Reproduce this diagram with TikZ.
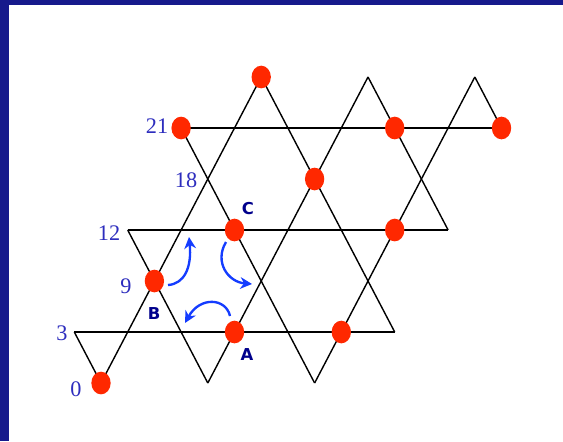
\documentclass[tikz,border=0pt]{standalone}
\usepackage{fontspec}
\setmainfont{Liberation Serif}
\newfontfamily\tagfont{DejaVu Sans}
\usepackage{tikz}
\usetikzlibrary{arrows.meta, shapes.geometric}
\definecolor{framenavy}{RGB}{22, 26, 140}
\definecolor{labelblue}{RGB}{45, 45, 190}
\definecolor{tagnavy}{RGB}{0, 0, 140}
\definecolor{hopblue}{RGB}{20, 60, 255}
\definecolor{sitered}{RGB}{255, 40, 0}

\begin{document}
\begin{tikzpicture}[x=0.03cm, y=-0.03cm,
  site/.style={ellipse, fill=sitered, inner sep=0pt, minimum width=0.58cm, minimum height=0.68cm},
  num/.style={text=labelblue, inner sep=0pt, font=\fontsize{19}{19}\selectfont},
  tag/.style={text=tagnavy, inner sep=0pt, font=\tagfont\bfseries\fontsize{14}{14}\selectfont},
  hop/.style={-{Stealth[length=10pt, width=10pt]}, hopblue, line width=2pt}]
  \useasboundingbox (0,0) rectangle (563,441);
  % frame
  \fill[framenavy] (0,0) rectangle (563,441);
  \fill[white] (9,5) rectangle (563,441);
  % lattice, in cell units
  \begin{scope}[shift={(3.03cm,-11.49cm)}, x=0.801cm, y=1.53cm]
    \draw[line width=1.7pt] (-1,1) -- (11,1);
    \draw[line width=1.7pt] (1,3) -- (13,3);
    \draw[line width=1.7pt] (3,5) -- (15,5);
    \foreach \s in {0,4,8}
      \draw[line width=1.2pt] (\s,0) -- (\s+6,6);
    \draw[line width=1.2pt] (-1,1) -- (0,0);
    \draw[line width=1.2pt] (1,3) -- (4,0);
    \draw[line width=1.2pt] (3,5) -- (8,0);
    \draw[line width=1.2pt] (6,6) -- (11,1);
    \draw[line width=1.2pt] (10,6) -- (13,3);
    \draw[line width=1.2pt] (14,6) -- (15,5);
    % occupied sites
    \node[site] (s0) at (0,0) {};
    \node[site] (B) at (2,2) {};
    \node[site] (A) at (5,1) {};
    \node[site] (C) at (5,3) {};
    \node[site] (s21) at (3,5) {};
    \node[site] (top) at (6,6) {};
    \node[site] (mid) at (8,4) {};
    \node[site] (low) at (9,1) {};
    \node[site] (east) at (11,3) {};
    \node[site] (upper) at (11,5) {};
    \node[site] (far) at (15,5) {};
  \end{scope}
  % site numbers
  \node[num] at (76,389) {0};
  \node[num] at (62,333) {3};
  \node[num] at (126,286) {9};
  \node[num] at (109,233) {12};
  \node[num] at (186,180) {18};
  \node[num] at (157,126) {21};
  % sublattice tags
  \node[tag] at (248,209) {C};
  \node[tag] at (154,314) {B};
  \node[tag] at (247,355) {A};
  % hops
  \draw[hop] (168,285) .. controls (184,284) and (192,268) .. (189,237);
  \draw[hop] (226,242) .. controls (214,262) and (228,282) .. (252,284);
  \draw[hop] (230,316) .. controls (226,298) and (200,296) .. (185,323);
\end{tikzpicture}
\end{document}
